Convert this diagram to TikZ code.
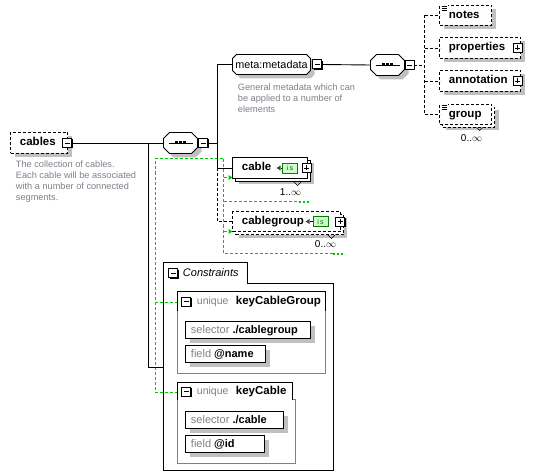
\documentclass[tikz,border=0pt]{standalone}
\usepackage{fontspec}
\setmainfont{Liberation Sans}
\definecolor{shd}{RGB}{192,192,192}
\definecolor{descgray}{RGB}{128,128,138}
\definecolor{lblgray}{RGB}{128,128,128}
\definecolor{bodygray}{RGB}{128,128,128}
\definecolor{kgreen}{RGB}{0,200,0}
\definecolor{isgreen}{RGB}{0,128,0}
\definecolor{islight}{RGB}{204,255,204}
\newcommand{\xpmbox}[4]{%
  \fill[black] ({#2-3.5},{#3-3.5}) rectangle ({#2+5.5},{#3+5.5});
  \node[pm] (#1) at (#2,#3) {};
  \draw[line width=0.9pt] ({#2-2.5},{#3}) -- ({#2+2.5},{#3});
  \ifnum#4=1 \draw[line width=0.9pt] ({#2},{#3-2.5}) -- ({#2},{#3+2.5});\fi}
\newcommand{\xoct}[6][]{%
  \path[#1] ({#2+#6},{#3}) -- ({#4-#6},{#3}) -- ({#4},{#3+#6}) -- ({#4},{#5-#6}) -- ({#4-#6},{#5}) -- ({#2+#6},{#5}) -- ({#2},{#5-#6}) -- ({#2},{#3+#6}) -- cycle;}
\newcommand{\xseqsym}[2]{%
  \draw[line width=0.9pt] ({#1-12},{#2}) -- ({#1+12},{#2});
  \fill ({#1-5.5},{#2-1.5}) rectangle ({#1-2.5},{#2+1.5});
  \fill ({#1-1.5},{#2-1.5}) rectangle ({#1+1.5},{#2+1.5});
  \fill ({#1+2.5},{#2-1.5}) rectangle ({#1+5.5},{#2+1.5});}
\newcommand{\xdocicon}[2]{%
  \fill[white] ({#1-0.5},{#2-0.5}) rectangle ({#1+6},{#2+6});
  \draw[line width=0.6pt] ({#1},{#2}) -- ({#1+5},{#2}) ({#1},{#2+2}) -- ({#1+5},{#2+2}) ({#1},{#2+4}) -- ({#1+5},{#2+4});}
\begin{document}
\begin{tikzpicture}[x=1pt,y=-1pt,line width=0.9pt,
  box/.style={draw=black, fill=white, inner sep=0pt, outer sep=0pt, anchor=north west},
  dbox/.style={box, dash pattern=on 3pt off 2pt},
  shbox/.style={fill=shd, draw=none, inner sep=0pt, outer sep=0pt, anchor=north west},
  lbl/.style={font=\fontsize{11.5}{13}\selectfont\bfseries, inner sep=0pt, anchor=west, text height=8pt, text depth=2pt},
  plbl/.style={font=\fontsize{11}{13}\selectfont, inner sep=0pt, anchor=west, text height=8pt, text depth=2pt},
  desc/.style={font=\fontsize{9.2}{11}\selectfont, text=descgray, align=left, inner sep=0pt, anchor=north west},
  mult/.style={font=\fontsize{10}{12}\selectfont, inner sep=0pt},
  pm/.style={draw=black, fill=white, line width=1pt, minimum width=9pt, minimum height=9pt, inner sep=0pt, outer sep=0pt},
  isbox/.style={draw=isgreen, fill=islight, line width=0.7pt, minimum width=15pt, minimum height=10pt, inner sep=0pt, font=\fontsize{7}{7}\selectfont, text=isgreen!80!black},
  dsh/.style={dash pattern=on 3pt off 2pt},
  grn/.style={draw=kgreen, line width=1pt, dash pattern=on 3pt off 2pt},
  gdots/.style={draw=kgreen, line width=2pt, dash pattern=on 2pt off 2pt},
  hid/.style={inner sep=0pt, outer sep=0pt, draw=none}
]
\useasboundingbox (0,0) rectangle (533,476);
\fill[white] (0,0) rectangle (533,476);
\begin{scope}[shift={(0.5,0.5)}]
% ---------- green identity-constraint lines ----------
\coordinate (g1) at (155,158);
\coordinate (g2) at (223,158);
\coordinate (g3) at (223,253);
\coordinate (g4) at (155,392);
\coordinate (g5) at (332,253);
\coordinate (g6) at (344,253);
\coordinate (g7) at (223,201);
\coordinate (g8) at (298,201);
\coordinate (g9) at (309,201);
\coordinate (g10) at (155,302);
\coordinate (kcw) at (177,392);
\coordinate (kcgw) at (177,302);
\coordinate (ga1) at (223,177);
\coordinate (ga2) at (228,177);
\coordinate (gb1) at (223,231);
\coordinate (gb2) at (228,231);
\draw[grn] (kcw) -- (g4) -- (g1) -- (g2) -- (g3) -- (g5);
\draw[gdots] (g5) -- (g6);
\draw[grn] (g7) -- (g8);
\draw[gdots] (g8) -- (g9);
\draw[grn] (kcgw) -- (g10);
\draw[grn] (ga1) -- (ga2);
\draw[grn] (gb1) -- (gb2);
\fill[kgreen] (228,174.5) -- (232,177) -- (228,179.5) -- cycle;
\fill[kgreen] (228,228.5) -- (232,231) -- (228,233.5) -- cycle;

% ---------- cables ----------
\node[shbox, minimum width=57pt, minimum height=21pt] (cabless) at (14,136) {};
\node[dbox, minimum width=57pt, minimum height=21pt] (cables) at (10,132) {};
\node[lbl] (cablest) at (19,142) {cables};
\xpmbox{cablesm}{66.5}{142.5}{0}
\node[desc] (cablesd) at (15,160) {The collection of cables.\\Each cable will be associated\\with a number of connected\\segments.};

% ---------- sequence 1 ----------
\xoct[fill=shd]{167}{136}{201}{157}{6}
\xoct[fill=white,draw=black]{163}{132}{197}{153}{6}
\node[hid, minimum width=34pt, minimum height=21pt] (seq1) at (180,142.5) {};
\xseqsym{180}{142.5}
\xpmbox{seq1m}{202.5}{142.5}{0}
\draw (cablesm.east) -- (seq1.west);

% main black trunk to constraints
\coordinate (jc1) at (148,142.5);
\coordinate (jc2) at (148,367);
\coordinate (jc3) at (163,367);
\draw (jc1) -- (jc2) -- (jc3);

% ---------- branch lines ----------
\coordinate (j1) at (217,142.5);
\coordinate (jmeta) at (217,64);
\coordinate (jcab) at (217,167.5);
\coordinate (jcg) at (217,221);
\draw (seq1m.east) -- (j1);
\draw (jmeta) -- (jcab);

% ---------- meta:metadata ----------
\xoct[fill=shd]{236}{58}{314}{78}{4}
\xoct[fill=white,draw=black]{232}{54}{310}{74}{4}
\node[hid, minimum width=78pt, minimum height=20pt, font=\fontsize{10.8}{12}\selectfont] (meta) at (271,64) {meta:metadata};
\xpmbox{metam}{316.5}{64}{0}
\node[desc] (metad) at (237,83) {General metadata which can\\be applied to a number of\\elements};
\draw (jmeta) -- (meta.west);

% ---------- sequence 2 ----------
\xoct[fill=shd]{374}{58}{408}{79}{6}
\xoct[fill=white,draw=black]{370}{54}{404}{75}{6}
\node[hid, minimum width=34pt, minimum height=21pt] (seq2) at (387,64.5) {};
\xseqsym{387}{64.5}
\xpmbox{seq2m}{409}{64.5}{0}
\draw (metam.east) -- (seq2.west);
\coordinate (j2) at (424,64.5);
\coordinate (j2a) at (424,15);
\coordinate (j2d) at (424,114);
\draw[dsh] (seq2m.east) -- (j2);
\draw[dsh] (j2a) -- (j2d);

% notes
\node[shbox, minimum width=52pt, minimum height=20pt] (notess) at (443,9) {};
\node[dbox, minimum width=52pt, minimum height=20pt] (notes) at (439,5) {};
\xdocicon{441}{5.5}
\node[lbl] (notest) at (448,15) {notes};
% properties
\node[shbox, minimum width=81pt, minimum height=21pt] (propertiess) at (443,41) {};
\node[dbox, minimum width=81pt, minimum height=21pt] (properties) at (439,37) {};
\node[lbl] (propertiest) at (448,47.5) {properties};
\xpmbox{propertiesm}{517}{47.5}{1}
% annotation
\node[shbox, minimum width=81pt, minimum height=21pt] (annotations) at (443,74) {};
\node[dbox, minimum width=81pt, minimum height=21pt] (annotation) at (439,70) {};
\node[lbl] (annotationt) at (448,80.5) {annotation};
\xpmbox{annotationm}{517}{80.5}{1}
% group
\node[shbox, minimum width=53pt, minimum height=20pt] (groups) at (445,110) {};
\node[dbox, minimum width=52pt, minimum height=20pt] (groupb) at (442,107) {};
\node[dbox, minimum width=52pt, minimum height=20pt] (group) at (439,104) {};
\xdocicon{441}{104.5}
\node[lbl] (groupt) at (448,114) {group};
\draw[line width=0.6pt] (476,127) -- (479,130) -- (482,127);
\node[mult] (groupmult) at (471,138) {0..$\infty$};

\draw[dsh] (j2a) -- (notes.west);
\draw[dsh] (j2 |- properties.west) -- (properties.west);
\draw[dsh] (j2 |- annotation.west) -- (annotation.west);
\draw[dsh] (j2d) -- (group.west);

% ---------- cable ----------
\node[shbox, minimum width=75pt, minimum height=21pt] (cables2) at (238,163) {};
\node[box, minimum width=75pt, minimum height=21pt] (cableb) at (235,160) {};
\node[box, minimum width=75pt, minimum height=21pt] (cable) at (232,157) {};
\node[lbl] (cablet) at (241,167.5) {cable};
\node[isbox] (cableis) at (289.5,167.5) {i\,s};
\fill[black!75] (276,167.5) -- (280,165) -- (280,170) -- cycle;
\draw[line width=0.7pt] (280,167.5) -- (cableis.west);
\xpmbox{cablem}{306}{167.5}{1}
\draw[line width=0.6pt] (293,181) -- (297,185) -- (301,181);
\node[mult] (cablemult) at (290,192) {1..$\infty$};
\draw (jcab) -- (cable.west);

% ---------- cablegroup ----------
\node[shbox, minimum width=108pt, minimum height=20pt] (cablegroups) at (238,217) {};
\node[dbox, minimum width=108pt, minimum height=20pt] (cablegroupb) at (235,214) {};
\node[dbox, minimum width=108pt, minimum height=20pt] (cablegroup) at (232,211) {};
\node[lbl] (cablegroupt) at (241,221) {cablegroup};
\node[isbox] (cablegroupis) at (320,221) {i\,s};
\fill[black!75] (305,221) -- (309,218.5) -- (309,223.5) -- cycle;
\draw[line width=0.7pt] (309,221) -- (cablegroupis.west);
\xpmbox{cablegroupm}{339.5}{221}{1}
\draw[line width=0.6pt] (327,234) -- (331,238) -- (335,234);
\node[mult] (cablegroupmult) at (325,244) {0..$\infty$};
\draw[dsh] (jcab) -- (jcg) -- (cablegroup.west);

% ---------- Constraints ----------
\draw (163,470) -- (163,262) -- (247,262) -- (247,283) -- (333,283) -- (333,470) -- cycle;
\xpmbox{consm}{172.5}{272.5}{0}
\node[plbl, font=\fontsize{11}{13}\selectfont\itshape] (constt) at (182,273) {Constraints};

% keyCableGroup
\draw[draw=bodygray] (177,310) -- (177,373) -- (325,373) -- (325,310);
\draw (177,310) -- (177,291) -- (325,291) -- (325,310);
\xpmbox{kcgm}{185.5}{301}{0}
\node[plbl, font=\fontsize{10.5}{13}\selectfont, text=lblgray] (kcgu) at (196,301) {unique};
\node[lbl] (kcgt) at (235,301) {keyCableGroup};
\node[shbox, minimum width=125pt, minimum height=17pt] (kcgsels) at (189,325) {};
\node[box, minimum width=125pt, minimum height=17pt] (kcgsel) at (185,321) {};
\node[plbl] (kcgselt) at (190,329.5) {\textcolor{lblgray}{selector} \textbf{./cablegroup}};
\node[shbox, minimum width=80pt, minimum height=17pt] (kcgflds) at (189,349) {};
\node[box, minimum width=80pt, minimum height=17pt] (kcgfld) at (185,345) {};
\node[plbl] (kcgfldt) at (190,353.5) {\textcolor{lblgray}{field} \textbf{@name}};

% keyCable
\draw[draw=bodygray] (177,399) -- (177,463) -- (295,463) -- (295,399) -- (292,399);
\draw (177,399) -- (177,382) -- (292,382) -- (292,399);
\xpmbox{kcm}{185.5}{391}{0}
\node[plbl, font=\fontsize{10.5}{13}\selectfont, text=lblgray] (kcu) at (196,391) {unique};
\node[lbl] (kct) at (235,391) {keyCable};
\node[shbox, minimum width=98pt, minimum height=17pt] (kcsels) at (189,415) {};
\node[box, minimum width=98pt, minimum height=17pt] (kcsel) at (185,411) {};
\node[plbl] (kcselt) at (190,419.5) {\textcolor{lblgray}{selector} \textbf{./cable}};
\node[shbox, minimum width=79pt, minimum height=17pt] (kcflds) at (189,439) {};
\node[box, minimum width=79pt, minimum height=17pt] (kcfld) at (185,435) {};
\node[plbl] (kcfldt) at (190,443.5) {\textcolor{lblgray}{field} \textbf{@id}};
\end{scope}
\end{tikzpicture}
\end{document}
